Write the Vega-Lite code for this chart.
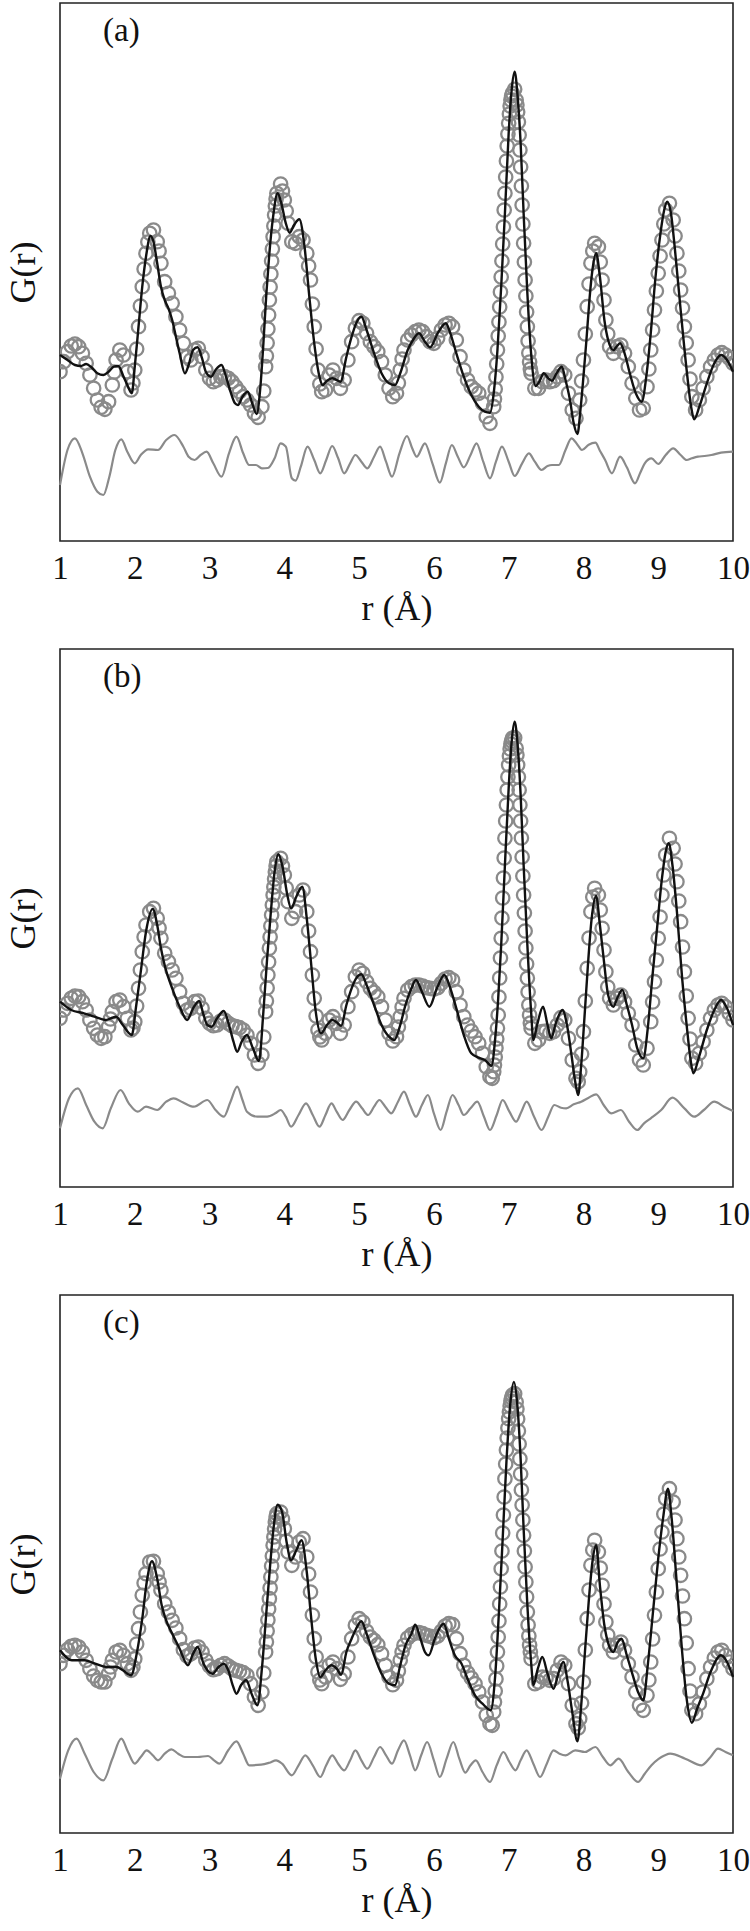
{
"$schema": "https://vega.github.io/schema/vega-lite/v6.json",
"background": "white",
"padding": {"left": 4, "top": 2, "right": 0, "bottom": 0},
"spacing": 108,
"bounds": "flush",
"config": {
  "font": "Liberation Serif",
  "view": {"stroke": "#222", "strokeWidth": 1.6},
  "axis": {"labelFont": "Liberation Serif", "labelFontSize": 33, "labelColor": "#111", "titleFont": "Liberation Serif", "titleFontSize": 36, "titleFontWeight": "normal", "titleColor": "#111", "grid": false},
  "title": {"font": "Liberation Serif", "fontSize": 33, "fontWeight": "normal", "color": "#111"}
},
"datasets": {
"mj": [{"r":2},{"r":3},{"r":4},{"r":5},{"r":6},{"r":7},{"r":8},{"r":9}],
"mn": [{"r":1.5},{"r":2.5},{"r":3.5},{"r":4.5},{"r":5.5},{"r":6.5},{"r":7.5},{"r":8.5},{"r":9.5}],
"aO": [{"r":1.00,"G":169.3},{"r":1.05,"G":179.3},{"r":1.10,"G":189.3},{"r":1.15,"G":195},{"r":1.20,"G":197},{"r":1.25,"G":194.3},{"r":1.30,"G":187.7},{"r":1.35,"G":177.7},{"r":1.40,"G":166},{"r":1.45,"G":152.7},{"r":1.50,"G":141},{"r":1.55,"G":133.7},{"r":1.60,"G":131.7},{"r":1.65,"G":139.3},{"r":1.70,"G":156},{"r":1.75,"G":181},{"r":1.80,"G":191},{"r":1.85,"G":186},{"r":1.90,"G":169.3},{"r":1.95,"G":151},{"r":2.00,"G":171},{"r":2.05,"G":214.3},{"r":2.10,"G":254.3},{"r":2.15,"G":287.7},{"r":2.20,"G":307.7},{"r":2.25,"G":311},{"r":2.30,"G":299.3},{"r":2.35,"G":277.7},{"r":2.40,"G":259.3},{"r":2.45,"G":247.7},{"r":2.50,"G":237.7},{"r":2.55,"G":224.3},{"r":2.60,"G":211},{"r":2.65,"G":197.7},{"r":2.70,"G":184.3},{"r":2.75,"G":181},{"r":2.80,"G":191},{"r":2.85,"G":192.7},{"r":2.90,"G":184.3},{"r":2.95,"G":171},{"r":3.00,"G":162.7},{"r":3.05,"G":159.3},{"r":3.10,"G":161},{"r":3.15,"G":164.3},{"r":3.20,"G":164.3},{"r":3.25,"G":162.7},{"r":3.30,"G":159.3},{"r":3.35,"G":154.3},{"r":3.40,"G":149.3},{"r":3.45,"G":144.3},{"r":3.50,"G":141},{"r":3.55,"G":136},{"r":3.60,"G":127.7},{"r":3.65,"G":123.7},{"r":3.70,"G":134.3},{"r":3.75,"G":174.3},{"r":3.80,"G":241},{"r":3.85,"G":304.3},{"r":3.90,"G":347.7},{"r":3.95,"G":357},{"r":4.00,"G":341},{"r":4.05,"G":317.7},{"r":4.10,"G":299.3},{"r":4.15,"G":297.7},{"r":4.20,"G":304.3},{"r":4.25,"G":301},{"r":4.30,"G":287.7},{"r":4.35,"G":261},{"r":4.40,"G":214.3},{"r":4.45,"G":171},{"r":4.50,"G":149.3},{"r":4.55,"G":151},{"r":4.60,"G":166},{"r":4.65,"G":171},{"r":4.70,"G":162.7},{"r":4.75,"G":152.7},{"r":4.80,"G":161},{"r":4.85,"G":181},{"r":4.90,"G":199.3},{"r":4.95,"G":212.7},{"r":5.00,"G":220.3},{"r":5.05,"G":217.7},{"r":5.10,"G":207.7},{"r":5.15,"G":199.3},{"r":5.20,"G":194.3},{"r":5.25,"G":189.3},{"r":5.30,"G":179.3},{"r":5.35,"G":166},{"r":5.40,"G":152.7},{"r":5.45,"G":144.3},{"r":5.50,"G":147.7},{"r":5.55,"G":171},{"r":5.60,"G":191},{"r":5.65,"G":201},{"r":5.70,"G":206},{"r":5.75,"G":209.3},{"r":5.80,"G":211},{"r":5.85,"G":209.3},{"r":5.90,"G":204.3},{"r":5.95,"G":199.3},{"r":6.00,"G":197.7},{"r":6.05,"G":202.7},{"r":6.10,"G":211},{"r":6.15,"G":216},{"r":6.20,"G":217.7},{"r":6.25,"G":214.3},{"r":6.30,"G":201},{"r":6.35,"G":184.3},{"r":6.40,"G":171},{"r":6.45,"G":161},{"r":6.50,"G":154.3},{"r":6.55,"G":151},{"r":6.60,"G":147.7},{"r":6.65,"G":137.7},{"r":6.70,"G":124.3},{"r":6.75,"G":117.7},{"r":6.80,"G":134.3},{"r":6.85,"G":191},{"r":6.90,"G":264},{"r":6.95,"G":347.7},{"r":7.00,"G":417.7},{"r":7.05,"G":447.7},{"r":7.08,"G":451.7},{"r":7.10,"G":441},{"r":7.15,"G":391},{"r":7.20,"G":297.7},{"r":7.25,"G":214.3},{"r":7.30,"G":167.7},{"r":7.35,"G":152.7},{"r":7.40,"G":152.7},{"r":7.45,"G":159.3},{"r":7.50,"G":161},{"r":7.55,"G":159.3},{"r":7.60,"G":160.3},{"r":7.65,"G":164.3},{"r":7.70,"G":169.3},{"r":7.75,"G":166},{"r":7.80,"G":147.7},{"r":7.85,"G":131},{"r":7.90,"G":122.7},{"r":7.95,"G":141},{"r":8.00,"G":181},{"r":8.05,"G":234.3},{"r":8.10,"G":277.7},{"r":8.15,"G":297.7},{"r":8.20,"G":294.3},{"r":8.25,"G":261},{"r":8.30,"G":221},{"r":8.35,"G":194.3},{"r":8.40,"G":187.7},{"r":8.45,"G":194.3},{"r":8.50,"G":196},{"r":8.55,"G":187.7},{"r":8.60,"G":174.3},{"r":8.65,"G":157.7},{"r":8.70,"G":142.7},{"r":8.75,"G":131},{"r":8.80,"G":132.7},{"r":8.85,"G":154.3},{"r":8.90,"G":191},{"r":8.95,"G":231},{"r":9.00,"G":267.7},{"r":9.05,"G":301},{"r":9.10,"G":331},{"r":9.15,"G":337.7},{"r":9.20,"G":321},{"r":9.25,"G":287.7},{"r":9.30,"G":251},{"r":9.35,"G":214.3},{"r":9.40,"G":181},{"r":9.45,"G":144.3},{"r":9.50,"G":131},{"r":9.55,"G":141},{"r":9.60,"G":152.7},{"r":9.65,"G":164.3},{"r":9.70,"G":174.3},{"r":9.75,"G":181},{"r":9.80,"G":186},{"r":9.85,"G":188.3},{"r":9.90,"G":186},{"r":9.95,"G":182.7},{"r":10.00,"G":177.7},
{"r":1.725,"G":169},{"r":1.975,"G":158},{"r":2.325,"G":290},{"r":3.975,"G":350},{"r":4.025,"G":330},{"r":4.475,"G":157},{"r":5.525,"G":158},{"r":5.575,"G":182},{"r":2.025,"G":192},{"r":2.075,"G":235},{"r":2.125,"G":272},{"r":2.175,"G":299},{"r":3.725,"G":150},{"r":3.76,"G":185},{"r":3.77,"G":198},{"r":3.78,"G":212},{"r":3.79,"G":226},{"r":3.81,"G":254},{"r":3.82,"G":267},{"r":3.83,"G":280},{"r":3.84,"G":292},{"r":3.86,"G":315},{"r":3.87,"G":326},{"r":3.88,"G":335},{"r":3.89,"G":342},{"r":4.325,"G":275},{"r":4.375,"G":237},{"r":4.425,"G":192},{"r":6.81,"G":142},{"r":6.82,"G":152},{"r":6.83,"G":164},{"r":6.84,"G":177},{"r":6.86,"G":205},{"r":6.87,"G":219},{"r":6.88,"G":234},{"r":6.89,"G":249},{"r":6.91,"G":280},{"r":6.92,"G":297},{"r":6.93,"G":314},{"r":6.94,"G":331},{"r":6.96,"G":364},{"r":6.97,"G":380},{"r":6.98,"G":395},{"r":6.99,"G":407},{"r":7.01,"G":427},{"r":7.02,"G":435},{"r":7.03,"G":441},{"r":7.04,"G":445},{"r":7.11,"G":436},{"r":7.12,"G":429},{"r":7.13,"G":419},{"r":7.14,"G":406},{"r":7.16,"G":374},{"r":7.17,"G":355},{"r":7.18,"G":336},{"r":7.19,"G":317},{"r":7.21,"G":279},{"r":7.22,"G":261},{"r":7.23,"G":245},{"r":7.24,"G":229},{"r":7.26,"G":200},{"r":7.27,"G":188},{"r":7.28,"G":179},{"r":7.29,"G":172},{"r":7.975,"G":160},{"r":8.025,"G":207},{"r":8.075,"G":257},{"r":8.125,"G":290},{"r":8.225,"G":279},{"r":8.275,"G":241},{"r":8.325,"G":207},{"r":8.875,"G":172},{"r":8.925,"G":211},{"r":8.975,"G":250},{"r":9.025,"G":285},{"r":9.075,"G":317},{"r":9.225,"G":305},{"r":9.275,"G":270},{"r":9.325,"G":233},{"r":9.375,"G":198},{"r":9.425,"G":162}],
"aF": [{"r":1.00,"G":186},{"r":1.10,"G":181},{"r":1.20,"G":176},{"r":1.28,"G":175},{"r":1.35,"G":177},{"r":1.42,"G":173.7},{"r":1.50,"G":167.7},{"r":1.58,"G":166},{"r":1.65,"G":169.3},{"r":1.72,"G":174.3},{"r":1.78,"G":175},{"r":1.85,"G":164.3},{"r":1.90,"G":156},{"r":1.96,"G":147.7},{"r":2.00,"G":174.3},{"r":2.05,"G":214.3},{"r":2.10,"G":254.3},{"r":2.15,"G":284.3},{"r":2.21,"G":305},{"r":2.25,"G":299.3},{"r":2.30,"G":277.7},{"r":2.35,"G":254.3},{"r":2.40,"G":241},{"r":2.45,"G":232.7},{"r":2.50,"G":221},{"r":2.55,"G":204.3},{"r":2.60,"G":187.7},{"r":2.67,"G":167.7},{"r":2.72,"G":176},{"r":2.78,"G":191},{"r":2.84,"G":193.7},{"r":2.90,"G":182.7},{"r":2.95,"G":169.3},{"r":3.02,"G":164.3},{"r":3.08,"G":171},{"r":3.16,"G":176},{"r":3.22,"G":164.3},{"r":3.28,"G":149.3},{"r":3.34,"G":137.7},{"r":3.38,"G":136},{"r":3.44,"G":144.3},{"r":3.51,"G":149.3},{"r":3.57,"G":137.7},{"r":3.63,"G":127},{"r":3.68,"G":154.3},{"r":3.72,"G":197.7},{"r":3.76,"G":247.7},{"r":3.80,"G":287.7},{"r":3.85,"G":324.3},{"r":3.91,"G":347.7},{"r":3.96,"G":337.7},{"r":4.02,"G":317.7},{"r":4.07,"G":308.3},{"r":4.13,"G":316},{"r":4.20,"G":321.7},{"r":4.27,"G":294.3},{"r":4.33,"G":247.7},{"r":4.40,"G":197.7},{"r":4.47,"G":164.3},{"r":4.51,"G":156},{"r":4.57,"G":160.3},{"r":4.64,"G":162.7},{"r":4.70,"G":161},{"r":4.75,"G":159.3},{"r":4.83,"G":184.3},{"r":4.90,"G":204.3},{"r":4.97,"G":219.3},{"r":5.03,"G":224.3},{"r":5.10,"G":211},{"r":5.20,"G":187.7},{"r":5.30,"G":167.7},{"r":5.40,"G":157.7},{"r":5.48,"G":156},{"r":5.55,"G":167.7},{"r":5.65,"G":191},{"r":5.72,"G":201},{"r":5.80,"G":207.7},{"r":5.88,"G":199.3},{"r":5.95,"G":193.7},{"r":6.05,"G":207.7},{"r":6.16,"G":217.7},{"r":6.22,"G":207.7},{"r":6.30,"G":187.7},{"r":6.40,"G":164.3},{"r":6.50,"G":146},{"r":6.60,"G":134.3},{"r":6.68,"G":129.3},{"r":6.75,"G":128.3},{"r":6.80,"G":147.7},{"r":6.85,"G":191},{"r":6.90,"G":254.3},{"r":6.95,"G":327.7},{"r":7.00,"G":407.7},{"r":7.04,"G":451},{"r":7.08,"G":469.3},{"r":7.12,"G":444.3},{"r":7.16,"G":397.7},{"r":7.20,"G":327.7},{"r":7.25,"G":247.7},{"r":7.30,"G":187.7},{"r":7.36,"G":155},{"r":7.41,"G":159.3},{"r":7.47,"G":167.7},{"r":7.53,"G":162.7},{"r":7.58,"G":160.3},{"r":7.64,"G":167.7},{"r":7.71,"G":174.3},{"r":7.76,"G":161},{"r":7.82,"G":141},{"r":7.87,"G":117.7},{"r":7.92,"G":107},{"r":7.96,"G":131},{"r":8.00,"G":164.3},{"r":8.04,"G":201},{"r":8.08,"G":241},{"r":8.12,"G":271},{"r":8.17,"G":287.7},{"r":8.22,"G":264.3},{"r":8.28,"G":221},{"r":8.33,"G":201},{"r":8.40,"G":191},{"r":8.45,"G":195},{"r":8.49,"G":197.7},{"r":8.55,"G":187.7},{"r":8.62,"G":167.7},{"r":8.70,"G":147.7},{"r":8.78,"G":139.3},{"r":8.84,"G":164.3},{"r":8.90,"G":207.7},{"r":8.96,"G":261},{"r":9.03,"G":307.7},{"r":9.08,"G":331},{"r":9.12,"G":339.3},{"r":9.17,"G":327.7},{"r":9.22,"G":294.3},{"r":9.30,"G":231},{"r":9.38,"G":171},{"r":9.44,"G":134.3},{"r":9.48,"G":121.7},{"r":9.55,"G":134.3},{"r":9.65,"G":157.7},{"r":9.75,"G":177.7},{"r":9.84,"G":186},{"r":9.92,"G":181},{"r":10.00,"G":169.3}],
"aD": [{"r":1.00,"G":56},{"r":1.10,"G":91},{"r":1.20,"G":102.7},{"r":1.30,"G":87.7},{"r":1.40,"G":64.3},{"r":1.50,"G":49.3},{"r":1.58,"G":46},{"r":1.66,"G":64.3},{"r":1.74,"G":91},{"r":1.82,"G":101.7},{"r":1.90,"G":89.3},{"r":2.00,"G":77.7},{"r":2.08,"G":86},{"r":2.18,"G":91.7},{"r":2.31,"G":91},{"r":2.42,"G":101},{"r":2.53,"G":106},{"r":2.65,"G":94.3},{"r":2.72,"G":84.3},{"r":2.80,"G":81},{"r":2.88,"G":86},{"r":2.96,"G":89.3},{"r":3.05,"G":77.7},{"r":3.16,"G":64.3},{"r":3.26,"G":87.7},{"r":3.36,"G":104.3},{"r":3.45,"G":87.7},{"r":3.53,"G":76},{"r":3.62,"G":76},{"r":3.70,"G":72.7},{"r":3.78,"G":73},{"r":3.87,"G":82.7},{"r":3.95,"G":97.7},{"r":4.02,"G":94.3},{"r":4.10,"G":62.7},{"r":4.15,"G":60.3},{"r":4.22,"G":74.3},{"r":4.31,"G":94.3},{"r":4.40,"G":81},{"r":4.48,"G":67.7},{"r":4.56,"G":81},{"r":4.64,"G":95},{"r":4.72,"G":82.7},{"r":4.80,"G":67.7},{"r":4.88,"G":77.7},{"r":4.95,"G":86},{"r":5.03,"G":79.3},{"r":5.11,"G":72.7},{"r":5.20,"G":84.3},{"r":5.28,"G":94.3},{"r":5.36,"G":79.3},{"r":5.44,"G":64.3},{"r":5.54,"G":87.7},{"r":5.64,"G":105},{"r":5.71,"G":92.7},{"r":5.77,"G":84.3},{"r":5.88,"G":97.7},{"r":5.98,"G":77.7},{"r":6.08,"G":58.3},{"r":6.16,"G":77.7},{"r":6.24,"G":96},{"r":6.32,"G":84.3},{"r":6.40,"G":73.7},{"r":6.49,"G":86},{"r":6.57,"G":97.7},{"r":6.66,"G":79.3},{"r":6.75,"G":62.7},{"r":6.83,"G":79.3},{"r":6.91,"G":94.3},{"r":7.00,"G":79.3},{"r":7.08,"G":65},{"r":7.18,"G":77.7},{"r":7.27,"G":87.7},{"r":7.35,"G":79.3},{"r":7.44,"G":71},{"r":7.52,"G":75},{"r":7.58,"G":76},{"r":7.67,"G":76},{"r":7.76,"G":91},{"r":7.84,"G":102.7},{"r":7.92,"G":96.3},{"r":7.98,"G":91},{"r":8.07,"G":96.3},{"r":8.16,"G":98.3},{"r":8.22,"G":90.3},{"r":8.29,"G":81},{"r":8.38,"G":67.7},{"r":8.49,"G":84.3},{"r":8.58,"G":73.7},{"r":8.69,"G":57.7},{"r":8.76,"G":68.3},{"r":8.82,"G":77.7},{"r":8.91,"G":82.7},{"r":9.00,"G":77},{"r":9.10,"G":86},{"r":9.20,"G":92.7},{"r":9.30,"G":86},{"r":9.38,"G":81},{"r":9.45,"G":82.7},{"r":9.53,"G":84.3},{"r":9.62,"G":85},{"r":9.71,"G":86},{"r":9.84,"G":88.3},{"r":10.00,"G":89.3}],
"bO": [{"r":1.00,"G":168.7},{"r":1.05,"G":177},{"r":1.10,"G":183.7},{"r":1.15,"G":188.7},{"r":1.20,"G":191},{"r":1.25,"G":190.3},{"r":1.30,"G":185.3},{"r":1.35,"G":177},{"r":1.40,"G":167},{"r":1.45,"G":158.7},{"r":1.50,"G":152},{"r":1.55,"G":148.7},{"r":1.60,"G":150.3},{"r":1.65,"G":160.3},{"r":1.70,"G":175.3},{"r":1.75,"G":185.3},{"r":1.80,"G":187},{"r":1.85,"G":180.3},{"r":1.90,"G":168.7},{"r":1.95,"G":157},{"r":2.00,"G":165.3},{"r":2.05,"G":198.7},{"r":2.10,"G":235.3},{"r":2.15,"G":262},{"r":2.20,"G":275.3},{"r":2.25,"G":278.7},{"r":2.30,"G":268.7},{"r":2.35,"G":248.7},{"r":2.40,"G":233.7},{"r":2.45,"G":225.3},{"r":2.50,"G":217},{"r":2.55,"G":208.7},{"r":2.60,"G":195.3},{"r":2.65,"G":183.7},{"r":2.70,"G":177},{"r":2.75,"G":178.7},{"r":2.80,"G":185.3},{"r":2.85,"G":186},{"r":2.90,"G":178.7},{"r":2.95,"G":168.7},{"r":3.00,"G":163.7},{"r":3.05,"G":161.3},{"r":3.10,"G":162},{"r":3.15,"G":166},{"r":3.20,"G":167},{"r":3.25,"G":163.7},{"r":3.30,"G":161.3},{"r":3.35,"G":160.3},{"r":3.40,"G":159.3},{"r":3.45,"G":157},{"r":3.50,"G":152},{"r":3.55,"G":143.7},{"r":3.60,"G":132},{"r":3.65,"G":123.7},{"r":3.70,"G":132},{"r":3.75,"G":175.3},{"r":3.80,"G":238.7},{"r":3.85,"G":292},{"r":3.90,"G":325.3},{"r":3.95,"G":328.7},{"r":4.00,"G":312},{"r":4.05,"G":285.3},{"r":4.10,"G":268.7},{"r":4.15,"G":275.3},{"r":4.20,"G":292},{"r":4.25,"G":297},{"r":4.30,"G":275.3},{"r":4.35,"G":235.3},{"r":4.40,"G":188.7},{"r":4.45,"G":157},{"r":4.50,"G":147},{"r":4.55,"G":153.7},{"r":4.60,"G":167},{"r":4.65,"G":170.3},{"r":4.70,"G":163.7},{"r":4.75,"G":153.7},{"r":4.80,"G":162},{"r":4.85,"G":180.3},{"r":4.90,"G":195.3},{"r":4.95,"G":210.3},{"r":5.00,"G":217},{"r":5.05,"G":213.7},{"r":5.10,"G":205.3},{"r":5.15,"G":198.7},{"r":5.20,"G":194.7},{"r":5.25,"G":190.3},{"r":5.30,"G":180.3},{"r":5.35,"G":167},{"r":5.40,"G":153.7},{"r":5.45,"G":146},{"r":5.50,"G":150.3},{"r":5.55,"G":170.3},{"r":5.60,"G":188.7},{"r":5.65,"G":197},{"r":5.70,"G":200.3},{"r":5.75,"G":202},{"r":5.80,"G":202},{"r":5.85,"G":201},{"r":5.90,"G":199.3},{"r":5.95,"G":198.7},{"r":6.00,"G":198},{"r":6.05,"G":199.3},{"r":6.10,"G":203.7},{"r":6.15,"G":208},{"r":6.20,"G":209.3},{"r":6.25,"G":207},{"r":6.30,"G":195.3},{"r":6.35,"G":182},{"r":6.40,"G":170.3},{"r":6.45,"G":162},{"r":6.50,"G":156},{"r":6.55,"G":150.3},{"r":6.60,"G":143.7},{"r":6.65,"G":133.7},{"r":6.70,"G":120.3},{"r":6.75,"G":110.3},{"r":6.78,"G":108.7},{"r":6.80,"G":115.3},{"r":6.85,"G":158.7},{"r":6.90,"G":248.7},{"r":6.95,"G":348.7},{"r":7.00,"G":422},{"r":7.05,"G":448.7},{"r":7.08,"G":449.3},{"r":7.10,"G":438.7},{"r":7.15,"G":382},{"r":7.20,"G":292},{"r":7.25,"G":208.7},{"r":7.30,"G":158.7},{"r":7.35,"G":143.7},{"r":7.40,"G":147},{"r":7.45,"G":155.3},{"r":7.50,"G":156},{"r":7.55,"G":153.7},{"r":7.60,"G":155.3},{"r":7.65,"G":162},{"r":7.70,"G":169.3},{"r":7.75,"G":167},{"r":7.80,"G":148.7},{"r":7.85,"G":127},{"r":7.90,"G":108.7},{"r":7.93,"G":105.3},{"r":7.95,"G":115.3},{"r":8.00,"G":155.3},{"r":8.05,"G":218.7},{"r":8.10,"G":275.3},{"r":8.15,"G":298.7},{"r":8.20,"G":292},{"r":8.25,"G":258.7},{"r":8.30,"G":215.3},{"r":8.35,"G":188.7},{"r":8.40,"G":182},{"r":8.45,"G":188.7},{"r":8.50,"G":192},{"r":8.55,"G":185.3},{"r":8.60,"G":173.7},{"r":8.65,"G":162},{"r":8.70,"G":142},{"r":8.75,"G":127},{"r":8.80,"G":122},{"r":8.85,"G":138.7},{"r":8.90,"G":165.3},{"r":8.95,"G":205.3},{"r":9.00,"G":248.7},{"r":9.05,"G":292},{"r":9.10,"G":332},{"r":9.15,"G":348.7},{"r":9.20,"G":338.7},{"r":9.25,"G":305.3},{"r":9.30,"G":265.3},{"r":9.35,"G":215.3},{"r":9.40,"G":168.7},{"r":9.45,"G":128.7},{"r":9.50,"G":123.7},{"r":9.55,"G":133.7},{"r":9.60,"G":145.3},{"r":9.65,"G":157},{"r":9.70,"G":168.7},{"r":9.75,"G":177},{"r":9.80,"G":182},{"r":9.85,"G":183.7},{"r":9.90,"G":180.3},{"r":9.95,"G":173.7},{"r":10.00,"G":167},
{"r":1.675,"G":168},{"r":1.975,"G":159},{"r":2.325,"G":259},{"r":3.975,"G":321},{"r":4.025,"G":299},{"r":4.475,"G":150},{"r":5.525,"G":160},{"r":5.575,"G":180},{"r":2.025,"G":181},{"r":2.075,"G":217},{"r":2.125,"G":250},{"r":3.725,"G":150},{"r":3.76,"G":186},{"r":3.77,"G":199},{"r":3.78,"G":212},{"r":3.79,"G":225},{"r":3.81,"G":250},{"r":3.82,"G":261},{"r":3.83,"G":272},{"r":3.84,"G":282},{"r":3.86,"G":300},{"r":3.87,"G":308},{"r":3.88,"G":315},{"r":3.89,"G":321},{"r":4.325,"G":256},{"r":4.375,"G":212},{"r":4.425,"G":171},{"r":6.81,"G":122},{"r":6.82,"G":130},{"r":6.83,"G":139},{"r":6.84,"G":148},{"r":6.86,"G":172},{"r":6.87,"G":190},{"r":6.88,"G":209},{"r":6.89,"G":229},{"r":6.91,"G":269},{"r":6.92,"G":289},{"r":6.93,"G":309},{"r":6.94,"G":329},{"r":6.96,"G":366},{"r":6.97,"G":382},{"r":6.98,"G":397},{"r":6.99,"G":410},{"r":7.01,"G":431},{"r":7.02,"G":438},{"r":7.03,"G":443},{"r":7.04,"G":446},{"r":7.11,"G":432},{"r":7.12,"G":422},{"r":7.13,"G":410},{"r":7.14,"G":397},{"r":7.16,"G":366},{"r":7.17,"G":349},{"r":7.18,"G":330},{"r":7.19,"G":311},{"r":7.21,"G":274},{"r":7.22,"G":256},{"r":7.23,"G":239},{"r":7.24,"G":223},{"r":7.26,"G":195},{"r":7.27,"G":182},{"r":7.28,"G":172},{"r":7.29,"G":164},{"r":7.975,"G":133},{"r":8.025,"G":186},{"r":8.075,"G":249},{"r":8.125,"G":290},{"r":8.225,"G":277},{"r":8.275,"G":237},{"r":8.325,"G":200},{"r":8.925,"G":185},{"r":8.975,"G":227},{"r":9.025,"G":270},{"r":9.075,"G":312},{"r":9.225,"G":323},{"r":9.275,"G":286},{"r":9.325,"G":240},{"r":9.375,"G":191},{"r":9.425,"G":148}],
"bF": [{"r":1.00,"G":185.3},{"r":1.15,"G":177},{"r":1.32,"G":173.7},{"r":1.46,"G":170.3},{"r":1.61,"G":167},{"r":1.68,"G":168.7},{"r":1.75,"G":170.3},{"r":1.84,"G":162},{"r":1.96,"G":152},{"r":2.02,"G":182},{"r":2.08,"G":215.3},{"r":2.15,"G":255.3},{"r":2.24,"G":278},{"r":2.30,"G":262},{"r":2.35,"G":238.7},{"r":2.41,"G":218.7},{"r":2.50,"G":198.7},{"r":2.60,"G":180.3},{"r":2.70,"G":167},{"r":2.78,"G":178.7},{"r":2.86,"G":186},{"r":2.92,"G":172},{"r":2.97,"G":162},{"r":3.03,"G":160.3},{"r":3.10,"G":168.7},{"r":3.19,"G":176},{"r":3.26,"G":162},{"r":3.32,"G":145.3},{"r":3.37,"G":135.3},{"r":3.43,"G":145.3},{"r":3.50,"G":152},{"r":3.58,"G":138.7},{"r":3.66,"G":126},{"r":3.72,"G":175.3},{"r":3.77,"G":228.7},{"r":3.82,"G":275.3},{"r":3.87,"G":315.3},{"r":3.92,"G":332.7},{"r":3.98,"G":318.7},{"r":4.04,"G":292},{"r":4.09,"G":278.7},{"r":4.16,"G":290.3},{"r":4.24,"G":300.3},{"r":4.30,"G":268.7},{"r":4.36,"G":222},{"r":4.42,"G":175.3},{"r":4.49,"G":153.7},{"r":4.57,"G":162},{"r":4.64,"G":167},{"r":4.70,"G":164.7},{"r":4.76,"G":161.3},{"r":4.83,"G":182},{"r":4.90,"G":198.7},{"r":4.96,"G":208.7},{"r":5.03,"G":212.7},{"r":5.10,"G":202},{"r":5.20,"G":182},{"r":5.30,"G":162},{"r":5.40,"G":150.3},{"r":5.47,"G":147},{"r":5.55,"G":162},{"r":5.62,"G":182},{"r":5.70,"G":198.7},{"r":5.76,"G":207},{"r":5.84,"G":195.3},{"r":5.94,"G":180.3},{"r":6.04,"G":198.7},{"r":6.14,"G":212},{"r":6.22,"G":198.7},{"r":6.30,"G":178.7},{"r":6.40,"G":152},{"r":6.50,"G":133.7},{"r":6.60,"G":129.3},{"r":6.68,"G":127},{"r":6.77,"G":121.3},{"r":6.82,"G":148.7},{"r":6.86,"G":188.7},{"r":6.90,"G":242},{"r":6.95,"G":322},{"r":7.00,"G":398.7},{"r":7.04,"G":445.3},{"r":7.08,"G":465.3},{"r":7.12,"G":442},{"r":7.16,"G":392},{"r":7.20,"G":322},{"r":7.25,"G":242},{"r":7.30,"G":175.3},{"r":7.33,"G":147},{"r":7.38,"G":162},{"r":7.46,"G":180.3},{"r":7.52,"G":162},{"r":7.57,"G":148.7},{"r":7.63,"G":163.7},{"r":7.72,"G":177},{"r":7.78,"G":162},{"r":7.84,"G":132},{"r":7.89,"G":105.3},{"r":7.93,"G":92},{"r":7.97,"G":122},{"r":8.01,"G":165.3},{"r":8.06,"G":222},{"r":8.11,"G":268.7},{"r":8.17,"G":291},{"r":8.22,"G":262},{"r":8.27,"G":228.7},{"r":8.33,"G":192},{"r":8.40,"G":180.3},{"r":8.46,"G":190.3},{"r":8.52,"G":197},{"r":8.58,"G":182},{"r":8.65,"G":162},{"r":8.72,"G":138.7},{"r":8.80,"G":128.7},{"r":8.86,"G":158.7},{"r":8.92,"G":208.7},{"r":8.98,"G":255.3},{"r":9.05,"G":308.7},{"r":9.10,"G":335.3},{"r":9.14,"G":343.7},{"r":9.19,"G":322},{"r":9.25,"G":275.3},{"r":9.32,"G":208.7},{"r":9.38,"G":162},{"r":9.43,"G":128.7},{"r":9.47,"G":113.7},{"r":9.54,"G":128.7},{"r":9.65,"G":157},{"r":9.75,"G":177},{"r":9.84,"G":187},{"r":9.92,"G":178.7},{"r":10.00,"G":162}],
"bD": [{"r":1.00,"G":58.7},{"r":1.12,"G":88.7},{"r":1.24,"G":98.7},{"r":1.35,"G":82},{"r":1.46,"G":65.3},{"r":1.57,"G":58.7},{"r":1.68,"G":78.7},{"r":1.81,"G":97},{"r":1.92,"G":83.7},{"r":2.04,"G":75.3},{"r":2.15,"G":80.3},{"r":2.30,"G":77},{"r":2.42,"G":85.3},{"r":2.52,"G":88.7},{"r":2.64,"G":84.7},{"r":2.79,"G":80.3},{"r":2.97,"G":87},{"r":3.08,"G":77},{"r":3.19,"G":70.3},{"r":3.28,"G":85.3},{"r":3.37,"G":100.3},{"r":3.44,"G":87},{"r":3.50,"G":75.3},{"r":3.64,"G":70.3},{"r":3.77,"G":70.3},{"r":3.88,"G":73.7},{"r":3.95,"G":77},{"r":4.02,"G":70.3},{"r":4.09,"G":60.3},{"r":4.19,"G":72},{"r":4.29,"G":83.7},{"r":4.38,"G":72},{"r":4.47,"G":60.3},{"r":4.55,"G":72},{"r":4.63,"G":83.7},{"r":4.70,"G":75.3},{"r":4.78,"G":67},{"r":4.87,"G":77},{"r":4.96,"G":85.3},{"r":5.04,"G":78.7},{"r":5.12,"G":72},{"r":5.20,"G":80.3},{"r":5.27,"G":87},{"r":5.35,"G":80.3},{"r":5.43,"G":73.7},{"r":5.52,"G":85.3},{"r":5.60,"G":95.3},{"r":5.68,"G":82},{"r":5.76,"G":70.3},{"r":5.84,"G":82},{"r":5.92,"G":92},{"r":6.00,"G":73.7},{"r":6.09,"G":57},{"r":6.17,"G":75.3},{"r":6.25,"G":92},{"r":6.33,"G":82},{"r":6.40,"G":72},{"r":6.49,"G":78.7},{"r":6.58,"G":85.3},{"r":6.67,"G":70.3},{"r":6.75,"G":57},{"r":6.84,"G":72},{"r":6.92,"G":87},{"r":7.01,"G":75.3},{"r":7.10,"G":65.3},{"r":7.17,"G":75.3},{"r":7.24,"G":85.3},{"r":7.34,"G":70.3},{"r":7.44,"G":57},{"r":7.53,"G":70.3},{"r":7.61,"G":82},{"r":7.70,"G":79.3},{"r":7.77,"G":78.7},{"r":7.87,"G":82.7},{"r":7.97,"G":85.3},{"r":8.07,"G":89.3},{"r":8.17,"G":92.7},{"r":8.27,"G":82},{"r":8.37,"G":73.7},{"r":8.50,"G":77},{"r":8.61,"G":65.3},{"r":8.72,"G":57},{"r":8.81,"G":63.7},{"r":8.90,"G":68.7},{"r":9.04,"G":77},{"r":9.19,"G":89.3},{"r":9.35,"G":78.7},{"r":9.48,"G":70.3},{"r":9.61,"G":77},{"r":9.75,"G":85.3},{"r":9.88,"G":80.3},{"r":10.00,"G":76}],
"cO": [{"r":1.00,"G":169.3},{"r":1.05,"G":177.7},{"r":1.10,"G":183.3},{"r":1.15,"G":186.7},{"r":1.20,"G":187.7},{"r":1.25,"G":186},{"r":1.30,"G":181},{"r":1.35,"G":172.7},{"r":1.40,"G":164.3},{"r":1.45,"G":157},{"r":1.50,"G":152.7},{"r":1.55,"G":151},{"r":1.60,"G":151},{"r":1.65,"G":159.3},{"r":1.70,"G":172.7},{"r":1.75,"G":181},{"r":1.80,"G":182.7},{"r":1.85,"G":177.7},{"r":1.90,"G":169.3},{"r":1.95,"G":162.7},{"r":2.00,"G":174.3},{"r":2.05,"G":204.3},{"r":2.10,"G":237.7},{"r":2.15,"G":259.3},{"r":2.20,"G":271},{"r":2.25,"G":271.7},{"r":2.30,"G":259.3},{"r":2.35,"G":242.7},{"r":2.40,"G":229.3},{"r":2.45,"G":221},{"r":2.50,"G":212.7},{"r":2.55,"G":205},{"r":2.60,"G":194.3},{"r":2.65,"G":183.3},{"r":2.70,"G":177},{"r":2.75,"G":179.3},{"r":2.80,"G":185},{"r":2.85,"G":186},{"r":2.90,"G":181},{"r":2.95,"G":172.7},{"r":3.00,"G":167},{"r":3.05,"G":163.3},{"r":3.10,"G":164.3},{"r":3.15,"G":167.7},{"r":3.20,"G":169.3},{"r":3.25,"G":167},{"r":3.30,"G":164.3},{"r":3.35,"G":162.7},{"r":3.40,"G":161.7},{"r":3.45,"G":160.3},{"r":3.50,"G":157.7},{"r":3.55,"G":149.3},{"r":3.60,"G":136},{"r":3.65,"G":127.7},{"r":3.70,"G":141},{"r":3.75,"G":181},{"r":3.80,"G":234.3},{"r":3.85,"G":287.7},{"r":3.90,"G":319.3},{"r":3.95,"G":321},{"r":4.00,"G":304.3},{"r":4.05,"G":281},{"r":4.10,"G":267.7},{"r":4.15,"G":276},{"r":4.20,"G":291},{"r":4.25,"G":294.3},{"r":4.30,"G":276},{"r":4.35,"G":241},{"r":4.40,"G":194.3},{"r":4.45,"G":161},{"r":4.50,"G":149.3},{"r":4.55,"G":156},{"r":4.60,"G":167.7},{"r":4.65,"G":171},{"r":4.70,"G":164.3},{"r":4.75,"G":153.7},{"r":4.80,"G":159.3},{"r":4.85,"G":176},{"r":4.90,"G":194.3},{"r":4.95,"G":207.7},{"r":5.00,"G":214.3},{"r":5.05,"G":211},{"r":5.10,"G":201.7},{"r":5.15,"G":196},{"r":5.20,"G":192.7},{"r":5.25,"G":188.3},{"r":5.30,"G":179.3},{"r":5.35,"G":167.7},{"r":5.40,"G":156},{"r":5.45,"G":148.3},{"r":5.50,"G":152.7},{"r":5.55,"G":172.7},{"r":5.60,"G":187.7},{"r":5.65,"G":195},{"r":5.70,"G":198.3},{"r":5.75,"G":200},{"r":5.80,"G":200.3},{"r":5.85,"G":199.3},{"r":5.90,"G":197.7},{"r":5.95,"G":196.7},{"r":6.00,"G":195.3},{"r":6.05,"G":197},{"r":6.10,"G":201.7},{"r":6.15,"G":207},{"r":6.20,"G":209.3},{"r":6.25,"G":208.3},{"r":6.30,"G":194.3},{"r":6.35,"G":179.3},{"r":6.40,"G":167.7},{"r":6.45,"G":160.3},{"r":6.50,"G":155},{"r":6.55,"G":149.3},{"r":6.60,"G":141},{"r":6.65,"G":131},{"r":6.70,"G":117.7},{"r":6.75,"G":109.3},{"r":6.78,"G":107.7},{"r":6.80,"G":121},{"r":6.85,"G":181},{"r":6.90,"G":264.3},{"r":6.95,"G":354.3},{"r":7.00,"G":414.3},{"r":7.05,"G":437.7},{"r":7.08,"G":439.3},{"r":7.10,"G":431},{"r":7.15,"G":374.3},{"r":7.20,"G":297.7},{"r":7.25,"G":221},{"r":7.30,"G":174.3},{"r":7.35,"G":149.3},{"r":7.40,"G":151},{"r":7.45,"G":156},{"r":7.50,"G":155},{"r":7.55,"G":152.7},{"r":7.60,"G":154.3},{"r":7.65,"G":162.7},{"r":7.70,"G":171},{"r":7.75,"G":167.7},{"r":7.80,"G":149.3},{"r":7.85,"G":127.7},{"r":7.90,"G":109.3},{"r":7.93,"G":105},{"r":7.95,"G":114.3},{"r":8.00,"G":151},{"r":8.05,"G":214.3},{"r":8.10,"G":267.7},{"r":8.15,"G":292.7},{"r":8.20,"G":281},{"r":8.25,"G":247.7},{"r":8.30,"G":211},{"r":8.35,"G":187.7},{"r":8.40,"G":181},{"r":8.45,"G":187.7},{"r":8.50,"G":191},{"r":8.55,"G":182.7},{"r":8.60,"G":169.3},{"r":8.65,"G":156},{"r":8.70,"G":141},{"r":8.75,"G":127.7},{"r":8.80,"G":122.7},{"r":8.85,"G":137.7},{"r":8.90,"G":171},{"r":8.95,"G":217.7},{"r":9.00,"G":264.3},{"r":9.05,"G":301},{"r":9.10,"G":334.3},{"r":9.15,"G":344.3},{"r":9.20,"G":331},{"r":9.25,"G":294.3},{"r":9.30,"G":257.7},{"r":9.35,"G":214.3},{"r":9.40,"G":164.3},{"r":9.45,"G":122.7},{"r":9.50,"G":119.3},{"r":9.55,"G":129.3},{"r":9.60,"G":141},{"r":9.65,"G":154.3},{"r":9.70,"G":166},{"r":9.75,"G":175},{"r":9.80,"G":181},{"r":9.85,"G":182.7},{"r":9.90,"G":177.7},{"r":9.95,"G":171},{"r":10.00,"G":164.3},
{"r":1.675,"G":166},{"r":1.975,"G":166},{"r":2.325,"G":251},{"r":3.975,"G":314},{"r":4.025,"G":292},{"r":4.475,"G":153},{"r":5.525,"G":162},{"r":5.575,"G":181},{"r":2.025,"G":189},{"r":2.075,"G":221},{"r":2.125,"G":250},{"r":3.725,"G":160},{"r":3.76,"G":191},{"r":3.77,"G":202},{"r":3.78,"G":213},{"r":3.79,"G":224},{"r":3.81,"G":245},{"r":3.82,"G":256},{"r":3.83,"G":267},{"r":3.84,"G":277},{"r":3.86,"G":296},{"r":3.87,"G":304},{"r":3.88,"G":311},{"r":3.89,"G":316},{"r":4.325,"G":259},{"r":4.375,"G":218},{"r":4.425,"G":176},{"r":6.81,"G":131},{"r":6.82,"G":142},{"r":6.83,"G":154},{"r":6.84,"G":167},{"r":6.86,"G":196},{"r":6.87,"G":212},{"r":6.88,"G":229},{"r":6.89,"G":246},{"r":6.91,"G":282},{"r":6.92,"G":300},{"r":6.93,"G":318},{"r":6.94,"G":336},{"r":6.96,"G":369},{"r":6.97,"G":383},{"r":6.98,"G":395},{"r":6.99,"G":405},{"r":7.01,"G":421},{"r":7.02,"G":427},{"r":7.03,"G":432},{"r":7.04,"G":435},{"r":7.11,"G":424},{"r":7.12,"G":414},{"r":7.13,"G":402},{"r":7.14,"G":389},{"r":7.16,"G":359},{"r":7.17,"G":343},{"r":7.18,"G":328},{"r":7.19,"G":313},{"r":7.21,"G":282},{"r":7.22,"G":266},{"r":7.23,"G":251},{"r":7.24,"G":236},{"r":7.26,"G":208},{"r":7.27,"G":197},{"r":7.28,"G":188},{"r":7.29,"G":181},{"r":7.975,"G":130},{"r":8.025,"G":183},{"r":8.075,"G":243},{"r":8.125,"G":283},{"r":8.225,"G":265},{"r":8.275,"G":229},{"r":8.325,"G":198},{"r":8.875,"G":153},{"r":8.925,"G":194},{"r":8.975,"G":241},{"r":9.025,"G":284},{"r":9.075,"G":319},{"r":9.225,"G":313},{"r":9.275,"G":276},{"r":9.325,"G":237},{"r":9.375,"G":190},{"r":9.425,"G":142}],
"cF": [{"r":1.00,"G":182.7},{"r":1.16,"G":172.7},{"r":1.33,"G":172.7},{"r":1.47,"G":169.3},{"r":1.62,"G":166},{"r":1.76,"G":166},{"r":1.84,"G":162.7},{"r":1.95,"G":157.7},{"r":2.03,"G":181},{"r":2.10,"G":214.3},{"r":2.16,"G":251},{"r":2.23,"G":271.7},{"r":2.30,"G":254.3},{"r":2.36,"G":227.7},{"r":2.42,"G":212.7},{"r":2.49,"G":201},{"r":2.60,"G":184.3},{"r":2.71,"G":167.7},{"r":2.78,"G":179.3},{"r":2.84,"G":186},{"r":2.92,"G":169.3},{"r":3.04,"G":159.3},{"r":3.12,"G":166},{"r":3.19,"G":169.3},{"r":3.25,"G":162.7},{"r":3.31,"G":147.7},{"r":3.36,"G":139.3},{"r":3.42,"G":147.7},{"r":3.49,"G":152.7},{"r":3.57,"G":137.7},{"r":3.64,"G":127.7},{"r":3.70,"G":164.3},{"r":3.76,"G":221},{"r":3.81,"G":267.7},{"r":3.86,"G":307.7},{"r":3.91,"G":328.3},{"r":3.97,"G":321},{"r":4.03,"G":291},{"r":4.09,"G":272.7},{"r":4.16,"G":282.7},{"r":4.23,"G":292.7},{"r":4.30,"G":261},{"r":4.36,"G":214.3},{"r":4.42,"G":174.3},{"r":4.48,"G":156},{"r":4.55,"G":162.7},{"r":4.63,"G":167.7},{"r":4.70,"G":164.3},{"r":4.76,"G":158.3},{"r":4.83,"G":181},{"r":4.90,"G":194.3},{"r":4.96,"G":204.3},{"r":5.03,"G":211.7},{"r":5.10,"G":199.3},{"r":5.20,"G":177.7},{"r":5.30,"G":159.3},{"r":5.40,"G":149.3},{"r":5.48,"G":147.7},{"r":5.55,"G":167.7},{"r":5.62,"G":187.7},{"r":5.70,"G":199.3},{"r":5.75,"G":208.3},{"r":5.82,"G":194.3},{"r":5.88,"G":181},{"r":5.93,"G":177.7},{"r":6.02,"G":196},{"r":6.13,"G":209.3},{"r":6.20,"G":194.3},{"r":6.28,"G":177.7},{"r":6.37,"G":169.3},{"r":6.45,"G":154.3},{"r":6.55,"G":137.7},{"r":6.65,"G":129.3},{"r":6.76,"G":122.7},{"r":6.82,"G":157.7},{"r":6.87,"G":221},{"r":6.92,"G":294.3},{"r":6.97,"G":371},{"r":7.02,"G":427.7},{"r":7.07,"G":451},{"r":7.12,"G":424.3},{"r":7.16,"G":374.3},{"r":7.20,"G":304.3},{"r":7.25,"G":227.7},{"r":7.30,"G":171},{"r":7.33,"G":147.7},{"r":7.39,"G":164.3},{"r":7.45,"G":176},{"r":7.52,"G":159.3},{"r":7.60,"G":144.3},{"r":7.67,"G":161},{"r":7.73,"G":171},{"r":7.79,"G":151},{"r":7.85,"G":121},{"r":7.92,"G":91.7},{"r":7.97,"G":127.7},{"r":8.02,"G":181},{"r":8.07,"G":231},{"r":8.12,"G":271},{"r":8.17,"G":287.7},{"r":8.22,"G":247.7},{"r":8.28,"G":207.7},{"r":8.34,"G":187.7},{"r":8.40,"G":181},{"r":8.46,"G":191},{"r":8.51,"G":194.3},{"r":8.58,"G":177.7},{"r":8.66,"G":157.7},{"r":8.73,"G":141},{"r":8.80,"G":132.7},{"r":8.86,"G":167.7},{"r":8.93,"G":221},{"r":9.00,"G":274.3},{"r":9.07,"G":317.7},{"r":9.13,"G":344.3},{"r":9.18,"G":314.3},{"r":9.25,"G":247.7},{"r":9.32,"G":181},{"r":9.38,"G":134.3},{"r":9.45,"G":110.3},{"r":9.52,"G":124.3},{"r":9.60,"G":139.3},{"r":9.70,"G":161},{"r":9.84,"G":177.7},{"r":9.92,"G":171},{"r":10.00,"G":156}],
"cD": [{"r":1.00,"G":54.3},{"r":1.11,"G":82.7},{"r":1.22,"G":94.3},{"r":1.33,"G":79.3},{"r":1.45,"G":61},{"r":1.58,"G":52.7},{"r":1.70,"G":74.3},{"r":1.82,"G":94.3},{"r":1.91,"G":81},{"r":2.00,"G":69.3},{"r":2.08,"G":76},{"r":2.16,"G":82.7},{"r":2.24,"G":77.7},{"r":2.31,"G":72.7},{"r":2.40,"G":79.3},{"r":2.49,"G":83.7},{"r":2.58,"G":79.3},{"r":2.67,"G":76},{"r":2.84,"G":76},{"r":2.98,"G":77},{"r":3.06,"G":72.7},{"r":3.13,"G":69.3},{"r":3.25,"G":82.7},{"r":3.36,"G":91.7},{"r":3.45,"G":79.3},{"r":3.53,"G":67.7},{"r":3.69,"G":68.3},{"r":3.80,"G":70.3},{"r":3.89,"G":72.7},{"r":3.97,"G":69.3},{"r":4.10,"G":57.7},{"r":4.19,"G":67.7},{"r":4.28,"G":77.7},{"r":4.38,"G":67.7},{"r":4.48,"G":56},{"r":4.56,"G":67.7},{"r":4.64,"G":77.7},{"r":4.72,"G":69.3},{"r":4.80,"G":62.7},{"r":4.88,"G":72.7},{"r":4.95,"G":82.7},{"r":5.03,"G":72.7},{"r":5.11,"G":64.3},{"r":5.20,"G":76},{"r":5.28,"G":86},{"r":5.36,"G":77.7},{"r":5.44,"G":69.3},{"r":5.52,"G":82.7},{"r":5.60,"G":92.7},{"r":5.68,"G":77.7},{"r":5.75,"G":62.7},{"r":5.83,"G":77.7},{"r":5.91,"G":91},{"r":6.00,"G":72.7},{"r":6.08,"G":56},{"r":6.17,"G":74.3},{"r":6.26,"G":91},{"r":6.34,"G":74.3},{"r":6.42,"G":60.3},{"r":6.49,"G":67.7},{"r":6.56,"G":72.7},{"r":6.65,"G":61},{"r":6.75,"G":51},{"r":6.84,"G":67.7},{"r":6.93,"G":81},{"r":7.01,"G":71},{"r":7.09,"G":62.7},{"r":7.16,"G":72.7},{"r":7.24,"G":82.7},{"r":7.33,"G":69.3},{"r":7.42,"G":56},{"r":7.51,"G":69.3},{"r":7.60,"G":82.7},{"r":7.68,"G":79.3},{"r":7.76,"G":77.7},{"r":7.89,"G":82.7},{"r":8.02,"G":81},{"r":8.16,"G":86},{"r":8.26,"G":76},{"r":8.36,"G":67.7},{"r":8.47,"G":74.3},{"r":8.60,"G":61},{"r":8.73,"G":51},{"r":8.82,"G":59.3},{"r":8.91,"G":67.7},{"r":9.09,"G":77.7},{"r":9.16,"G":79.3},{"r":9.36,"G":74.3},{"r":9.58,"G":67.7},{"r":9.70,"G":76},{"r":9.80,"G":84.3},{"r":9.90,"G":81},{"r":10.00,"G":77.7}]
},
"vconcat": [
{
 "title": {"text": "(a)", "anchor": "start", "frame": "group", "orient": "top", "offset": -45, "dx": 43},
 "width": 673, "height": 538,
 "encoding": {
  "x": {"field": "r", "type": "quantitative", "scale": {"domain": [1, 10], "nice": false, "zero": false}, "axis": {"values": [1,2,3,4,5,6,7,8,9,10], "title": "r (Å)", "ticks": false, "domain": false, "labelFlush": false, "labelPadding": 11, "titlePadding": 6}},
  "y": {"field": "G", "type": "quantitative", "scale": {"domain": [0, 538], "nice": false, "zero": false}, "axis": {"title": "G(r)", "labels": false, "ticks": false, "domain": false, "titlePadding": 18}}
 },
 "layer": [
  {"data": {"name": "aO"}, "mark": {"type": "point", "shape": "circle", "filled": false, "size": 180, "strokeWidth": 2.3, "color": "#8a8a8a", "opacity": 1, "clip": true}},
  {"data": {"name": "aF"}, "mark": {"type": "line", "color": "#111111", "strokeWidth": 2.4, "interpolate": "monotone"}},
  {"data": {"name": "aD"}, "mark": {"type": "line", "color": "#8a8a8a", "strokeWidth": 2.2, "interpolate": "monotone"}},
  {"data": {"name": "mn"}, "mark": {"type": "rule", "color": "#222", "strokeWidth": 1.5}, "encoding": {"y": {"datum": 0}, "y2": {"datum": 7}}},
  {"data": {"name": "mj"}, "mark": {"type": "rule", "color": "#222", "strokeWidth": 1.5}, "encoding": {"y": {"datum": 0}, "y2": {"datum": 11}}}
 ]
},
{
 "title": {"text": "(b)", "anchor": "start", "frame": "group", "orient": "top", "offset": -45, "dx": 43},
 "width": 673, "height": 538,
 "encoding": {
  "x": {"field": "r", "type": "quantitative", "scale": {"domain": [1, 10], "nice": false, "zero": false}, "axis": {"values": [1,2,3,4,5,6,7,8,9,10], "title": "r (Å)", "ticks": false, "domain": false, "labelFlush": false, "labelPadding": 11, "titlePadding": 6}},
  "y": {"field": "G", "type": "quantitative", "scale": {"domain": [0, 538], "nice": false, "zero": false}, "axis": {"title": "G(r)", "labels": false, "ticks": false, "domain": false, "titlePadding": 18}}
 },
 "layer": [
  {"data": {"name": "bO"}, "mark": {"type": "point", "shape": "circle", "filled": false, "size": 180, "strokeWidth": 2.3, "color": "#8a8a8a", "opacity": 1, "clip": true}},
  {"data": {"name": "bF"}, "mark": {"type": "line", "color": "#111111", "strokeWidth": 2.4, "interpolate": "monotone"}},
  {"data": {"name": "bD"}, "mark": {"type": "line", "color": "#8a8a8a", "strokeWidth": 2.2, "interpolate": "monotone"}},
  {"data": {"name": "mn"}, "mark": {"type": "rule", "color": "#222", "strokeWidth": 1.5}, "encoding": {"y": {"datum": 0}, "y2": {"datum": 7}}},
  {"data": {"name": "mj"}, "mark": {"type": "rule", "color": "#222", "strokeWidth": 1.5}, "encoding": {"y": {"datum": 0}, "y2": {"datum": 11}}}
 ]
},
{
 "title": {"text": "(c)", "anchor": "start", "frame": "group", "orient": "top", "offset": -45, "dx": 43},
 "width": 673, "height": 538,
 "encoding": {
  "x": {"field": "r", "type": "quantitative", "scale": {"domain": [1, 10], "nice": false, "zero": false}, "axis": {"values": [1,2,3,4,5,6,7,8,9,10], "title": "r (Å)", "ticks": false, "domain": false, "labelFlush": false, "labelPadding": 11, "titlePadding": 6}},
  "y": {"field": "G", "type": "quantitative", "scale": {"domain": [0, 538], "nice": false, "zero": false}, "axis": {"title": "G(r)", "labels": false, "ticks": false, "domain": false, "titlePadding": 18}}
 },
 "layer": [
  {"data": {"name": "cO"}, "mark": {"type": "point", "shape": "circle", "filled": false, "size": 180, "strokeWidth": 2.3, "color": "#8a8a8a", "opacity": 1, "clip": true}},
  {"data": {"name": "cF"}, "mark": {"type": "line", "color": "#111111", "strokeWidth": 2.4, "interpolate": "monotone"}},
  {"data": {"name": "cD"}, "mark": {"type": "line", "color": "#8a8a8a", "strokeWidth": 2.2, "interpolate": "monotone"}},
  {"data": {"name": "mn"}, "mark": {"type": "rule", "color": "#222", "strokeWidth": 1.5}, "encoding": {"y": {"datum": 0}, "y2": {"datum": 7}}},
  {"data": {"name": "mj"}, "mark": {"type": "rule", "color": "#222", "strokeWidth": 1.5}, "encoding": {"y": {"datum": 0}, "y2": {"datum": 11}}}
 ]
}
]
}
